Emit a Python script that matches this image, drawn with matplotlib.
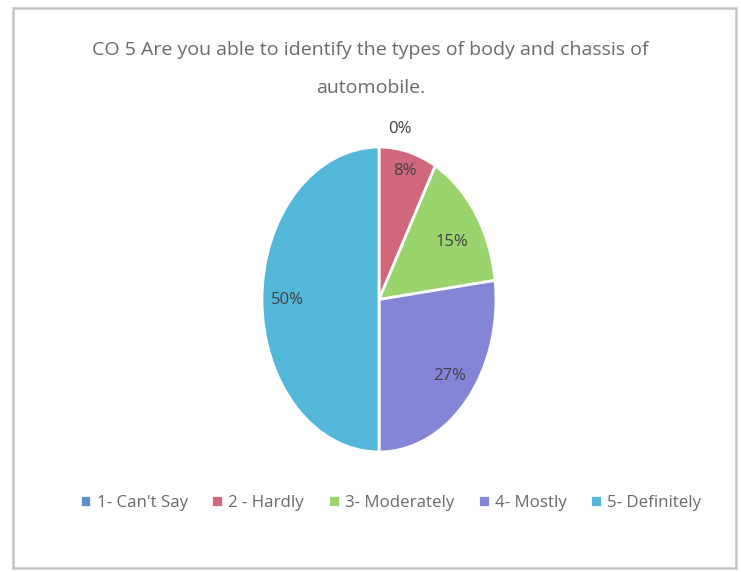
import matplotlib.pyplot as plt
from matplotlib.patches import Rectangle

# survey answers for CO 5
labels = ["1- Can't Say", "2 - Hardly", "3- Moderately", "4- Mostly", "5- Definitely"]
shares = [0, 8, 15, 27, 50]
pct_text = ["0%", "8%", "15%", "27%", "50%"]
colors = ["#5b8fd0", "#d0677d", "#9ad46c", "#8585d8", "#52b7d8"]

fig = plt.figure(figsize=(7.41, 5.72), dpi=100)
fig.patch.set_facecolor("white")

# thin grey frame round the chart area
fig.patches.append(Rectangle((13/741, 4/572), 723/741, 560/572, transform=fig.transFigure,
                             fill=False, edgecolor="#c4c4c4", linewidth=1.8))

fig.text(0.5, 1 - 50/572, "CO 5 Are you able to identify the types of body and chassis of",
         ha="center", va="center", fontsize=14, color="#6a6a6a", family="Open Sans")
fig.text(0.5, 1 - 88/572, "automobile.", ha="center", va="center",
         fontsize=14, color="#6a6a6a", family="Open Sans")

# pie is drawn slightly squashed (taller than wide) like the original
ax = fig.add_axes([262/741, 1 - 452/572, 234/741, 305/572])
wedges, _ = ax.pie(shares, colors=colors, startangle=90, counterclock=False,
                   wedgeprops=dict(edgecolor="white", linewidth=2))
ax.set_aspect("auto")
ax.set_xlim(-1.0, 1.0)
ax.set_ylim(-1.0, 1.0)

# percentage labels
pos = [(0.18, 1.12), (0.22, 0.84), (0.62, 0.38), (0.6, -0.5), (-0.78, 0.0)]
for (x, y), t in zip(pos, pct_text):
    ax.text(x, y, t, ha="center", va="center", fontsize=12, color="#404040",
            family="Open Sans", clip_on=False)

fig.legend(wedges, labels, loc="center", bbox_to_anchor=(0.527, 1 - 503/572), ncol=5,
           frameon=False, handlelength=0.7, handleheight=0.7, handletextpad=0.3,
           columnspacing=1.4, prop={"family": "Open Sans", "size": 12.2},
           labelcolor="#6a6a6a")

fig.savefig("out.png", dpi=100)
